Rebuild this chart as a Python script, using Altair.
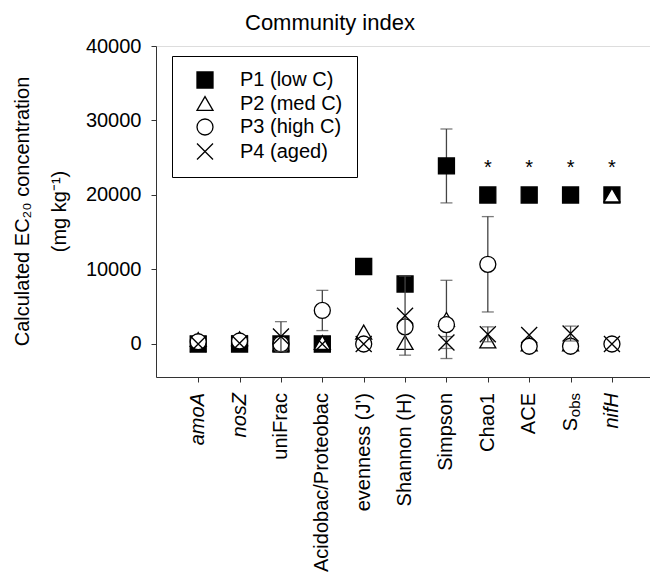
import altair as alt
import pandas as pd

FONT = "Liberation Sans"

categories = ["amoA", "nosZ", "uniFrac", "Acidobac/Proteobac", "evenness (J')",
              "Shannon (H)", "Simpson", "Chao1", "ACE", "Sobs", "nifH"]
label_main = ["amoA", "nosZ", "uniFrac", "Acidobac/Proteobac", "evenness (J')",
              "Shannon (H)", "Simpson", "Chao1", "ACE", "S", "nifH"]
label_sub = ["", "", "", "", "", "", "", "", "", "obs", ""]
label_italic = [True, True, False, False, False, False, False, False, False, False, True]

series_names = ["P1 (low C)", "P2 (med C)", "P3 (high C)", "P4 (aged)"]

p1 = [0, 0, 0, 0, 10400, 8050, 23900, 20000, 20000, 20000, 20000]
p1_err = [0, 0, 0, 0, 0, 0, 4960, 0, 0, 0, 0]
p2 = [600, 700, 0, 200, 1600, 200, 3300, 400, 0, 0, 20000]
p2_err = [0, 0, 0, 0, 0, 0, 5250, 0, 0, 0, 0]
p3 = [300, 400, 0, 4500, 0, 2300, 2600, 10700, -300, -300, 0]
p3_err = [0, 0, 0, 2700, 0, 0, 0, 6400, 0, 0, 0]
p4 = [0, 100, 1000, 0, 0, 3800, 200, 1300, 1200, 1400, 0]
p4_err = [0, 0, 2000, 0, 0, 5300, 800, 1000, 0, 1000, 0]

star_labels = ["", "", "", "", "", "", "", "*", "*", "*", "*"]
star_value = 23600

shape_range = ["square", "triangle-up", "circle", "M-1,-1L1,1M-1,1L1,-1"]
fill_range = ["black", "white", "white", "transparent"]
stroke_range = ["black", "black", "black", "black"]

rows = []
for si, (name, vals, errs) in enumerate(zip(series_names, [p1, p2, p3, p4],
                                            [p1_err, p2_err, p3_err, p4_err])):
    for ci, cat in enumerate(categories):
        rows.append(dict(series=name, order=si, pos=ci + 1, cat=cat,
                         value=vals[ci], err=errs[ci],
                         lo=vals[ci] - errs[ci], hi=vals[ci] + errs[ci]))
df = pd.DataFrame(rows)

lab_df = pd.DataFrame(dict(pos=list(range(1, len(categories) + 1)), main=label_main,
                           sub=label_sub, italic=label_italic))
star_df = pd.DataFrame(dict(pos=list(range(1, len(categories) + 1)), star=star_labels))
star_df = star_df[star_df.star != ""]
star_df["value"] = star_value

AX = "#333333"
xscale = alt.Scale(domain=[-0.02, 11.92], nice=False, zero=False)
yscale = alt.Scale(domain=[-4430, 40000], nice=False, zero=False)

xaxis = alt.Axis(values=list(range(1, 12)), labels=False, ticks=True, tickSize=5,
                 grid=False, title=None, domainColor=AX, tickColor=AX)
yaxis = alt.Axis(values=[0, 10000, 20000, 30000, 40000], format="d", grid=False,
                 tickSize=5, labelPadding=10, labelFontSize=20, labelFont=FONT,
                 labelColor="black", domainColor=AX, tickColor=AX,
                 title=["Calculated EC\u2082\u2080 concentration", "(mg kg\u207b\u00b9)"],
                 titleFont=FONT, titleFontSize=20, titleFontWeight="normal",
                 titleColor="black", titleAngle=270, titleAlign="center",
                 titleBaseline="alphabetic", titleX=-128, titleY=165,
                 titleLineHeight=37)

X = alt.X("pos:Q", scale=xscale, axis=xaxis)
Y = alt.Y("value:Q", scale=yscale, axis=yaxis)

legend = alt.Legend(title=None, orient="none", legendX=16, legendY=10,
                    strokeColor="black", fillColor="white", padding=14,
                    symbolOffset=9, labelOffset=25, rowPadding=2.5,
                    labelFont=FONT, labelFontSize=20, labelColor="black",
                    symbolSize=256, symbolStrokeColor="black", symbolStrokeWidth=1.3,
                    labelLimit=300)

base = alt.Chart(df)
layers = []
for si in range(4):
    sub = base.transform_filter(alt.datum.order == si)
    errsub = sub.transform_filter(alt.datum.err > 0)
    layers.append(errsub.mark_rule(color="#444444", strokeWidth=1.3).encode(
        x=X, y=alt.Y("lo:Q", scale=yscale, axis=yaxis), y2="hi:Q"))
    layers.append(errsub.mark_tick(orient="horizontal", size=12, thickness=1.3,
                                   color="#444444").encode(
        x=X, y=alt.Y("lo:Q", scale=yscale, axis=yaxis)))
    layers.append(errsub.mark_tick(orient="horizontal", size=12, thickness=1.3,
                                   color="#444444").encode(
        x=X, y=alt.Y("hi:Q", scale=yscale, axis=yaxis)))
    layers.append(sub.mark_point(filled=True, strokeWidth=1.3,
                                 size=256, opacity=1).encode(
        x=X, y=Y,
        shape=alt.Shape("series:N", scale=alt.Scale(domain=series_names, range=shape_range),
                        legend=legend),
        fill=alt.Fill("series:N", scale=alt.Scale(domain=series_names, range=fill_range),
                      legend=legend),
        stroke=alt.Stroke("series:N", scale=alt.Scale(domain=series_names, range=stroke_range),
                          legend=legend)))

lab = alt.Chart(lab_df)
LY = 347
layers.append(lab.transform_filter("datum.sub == '' && datum.italic").mark_text(
    angle=270, align="right", baseline="middle", font=FONT, fontSize=20,
    fontStyle="italic", color="black").encode(x=X, y=alt.value(LY), text="main:N"))
layers.append(lab.transform_filter("datum.sub == '' && !datum.italic").mark_text(
    angle=270, align="right", baseline="middle", font=FONT, fontSize=20,
    color="black").encode(x=X, y=alt.value(LY), text="main:N"))
layers.append(lab.transform_filter("datum.sub != ''").mark_text(
    angle=270, align="right", baseline="middle", font=FONT, fontSize=20, dx=-25,
    color="black").encode(x=X, y=alt.value(LY), text="main:N"))
layers.append(lab.transform_filter("datum.sub != ''").mark_text(
    angle=270, align="right", baseline="middle", font=FONT, fontSize=15, dy=4,
    color="black").encode(x=X, y=alt.value(LY), text="sub:N"))

layers.append(alt.Chart(star_df).mark_text(
    font=FONT, fontSize=20, baseline="middle", align="center", color="black").encode(
    x=X, y=Y, text="star:N"))

chart = alt.layer(*layers).properties(
    width=494, height=331,
    title=alt.TitleParams("Community index", anchor="start", frame="group", dx=89,
                          fontSize=22, font=FONT, fontWeight="normal", color="black",
                          offset=1),
    autosize=alt.AutoSizeParams(type="none"),
    padding={"left": 156, "top": 46, "right": 0, "bottom": 197},
).configure_view(stroke=AX, strokeWidth=1).configure(background="white")

chart.save("out.html", embed_options={"renderer": "svg", "actions": False})
